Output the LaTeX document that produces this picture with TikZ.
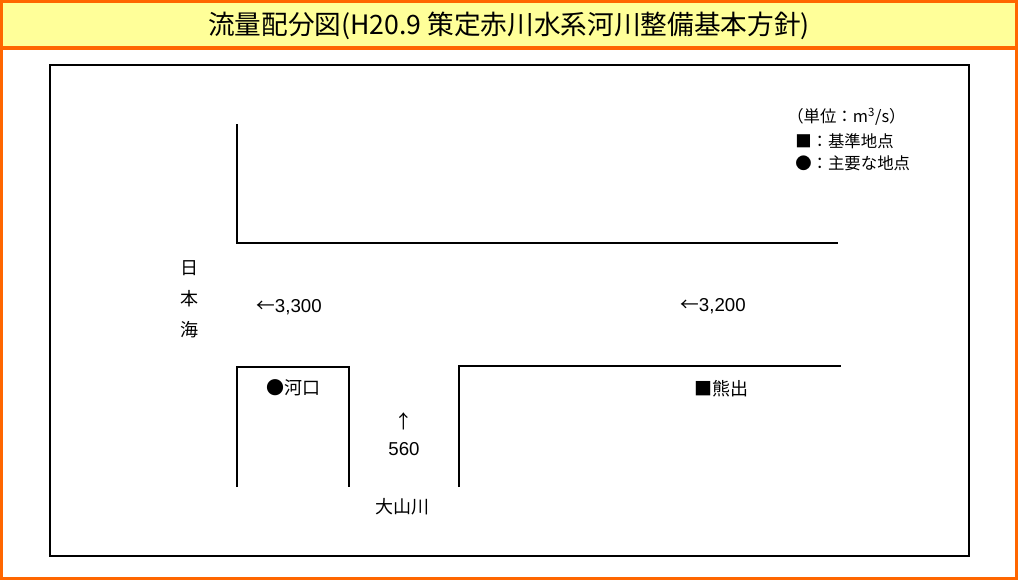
\documentclass[tikz,border=0pt]{standalone}
\usepackage{fontspec}
\setmainfont{Noto Sans CJK JP}
\newfontfamily\latinf{Liberation Sans}
\definecolor{frameorange}{HTML}{FF6600}
\definecolor{titleyellow}{HTML}{FFFF99}
\begin{document}
\begin{tikzpicture}[x=0.75pt,y=-0.75pt,
  riv/.style={draw=black,line width=1.1pt},
  lab/.style={inner sep=0pt,font=\fontsize{13.5pt}{15pt}\selectfont},
  num/.style={inner sep=0pt,font=\latinf\fontsize{14pt}{16pt}\selectfont},
  leg/.style={inner sep=0pt,anchor=west,font=\fontsize{12.3pt}{14pt}\selectfont}]
\useasboundingbox (0,0) rectangle (1019,582);
% title band
\fill[titleyellow] (1.5,1.5) rectangle (1016.5,48);
\draw[frameorange,line width=2.3pt] (1.5,1.5) rectangle (1016.5,578.5);
\draw[frameorange,line width=2.3pt] (1.5,48) -- (1016.5,48);
\node[inner sep=0pt,font=\fontsize{20pt}{23pt}\selectfont] (title) at (509,26)
  {流量配分図(H20.9 策定赤川水系河川整備基本方針)};
% inner frame
\draw[line width=1pt] (50,65) rectangle (969,556);
% river banks
\draw[riv] (237,124) -- (237,243) -- (838,243);
\draw[riv] (237,487) -- (237,367) -- (349,367) -- (349,487);
\draw[riv] (459,487) -- (459,366) -- (841,366);
% legend
\node[leg] (unit) at (787,117) {（単位：m\textsuperscript{3}/s）};
\node[leg] (sq) at (795,141) {■：基準地点};
\node[leg] (ci) at (795,163) {●：主要な地点};
% sea
\node[lab] (sea1) at (189,268) {日};
\node[lab] (sea2) at (189,299) {本};
\node[lab] (sea3) at (189,330) {海};
% flows
\node[num] (f1) at (289,307) {\fontspec{Noto Sans CJK JP}←\latinf3,300};
\node[num] (f2) at (713,306) {\fontspec{Noto Sans CJK JP}←\latinf3,200};
\node[num] (f3a) at (404,421) {\fontspec{Noto Sans CJK JP}↑};
\node[num] (f3) at (404,449) {560};
% points
\node[lab] (kawaguchi) at (293,388) {●河口};
\node[lab] (kumaide) at (721,389) {■熊出};
\node[lab] (oyama) at (402,507) {大山川};
\end{tikzpicture}
\end{document}
